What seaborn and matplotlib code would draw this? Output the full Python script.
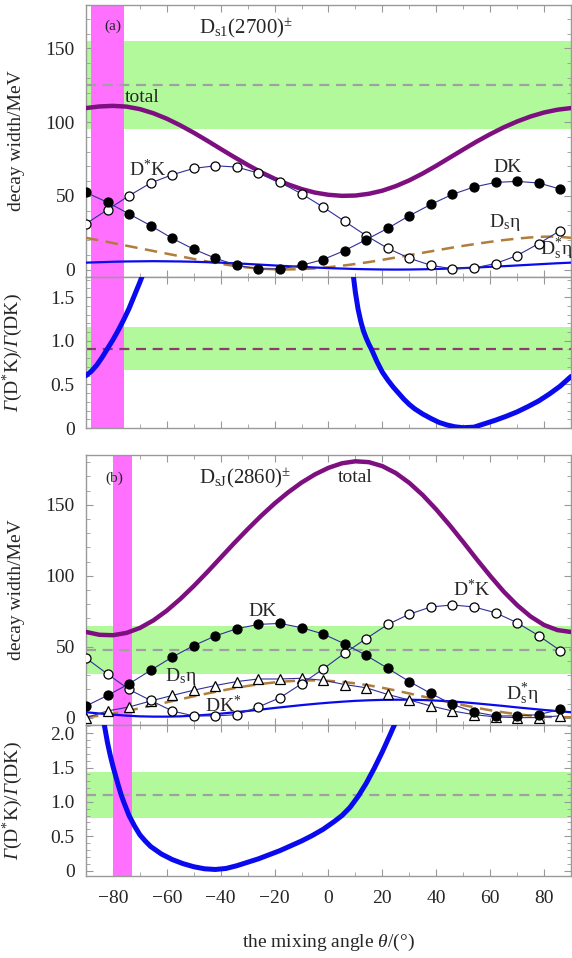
import numpy as np
import pandas as pd
import matplotlib
matplotlib.use('Agg')
import matplotlib.pyplot as plt
from matplotlib.ticker import MultipleLocator, FuncFormatter
import seaborn as sns

### Data ###

theta_line = list(range(-90, 91, 5))
theta_mark = list(range(-90, 87, 8))

# panel (a): Ds1(2700)
total_a = [109.5, 110.6, 111.0, 110.5, 108.8, 106.0, 102.3, 97.8, 92.8, 87.4,
           81.8, 76.3, 71.0, 66.0, 61.6, 57.8, 54.6, 52.2, 50.7, 50.0,
           50.2, 51.4, 53.5, 56.6, 60.5, 65.2, 70.4, 75.9, 81.4, 86.8,
           91.8, 96.4, 100.4, 103.8, 106.5, 108.4, 109.5]
dseta_a = [21.5, 19.8, 18.0, 16.2, 14.4, 12.6, 10.8, 9.0, 7.2, 5.5,
           3.9, 2.5, 1.4, 0.6, 0.2, 0.1, 0.3, 0.8, 1.6, 2.6,
           3.8, 5.1, 6.6, 8.2, 9.8, 11.4, 13.0, 14.6, 16.1, 17.5,
           18.8, 20.0, 21.0, 21.8, 22.3, 22.4, 21.5]
dsseta_a = [4.7, 5.0, 5.3, 5.5, 5.6, 5.7, 5.6, 5.5, 5.3, 5.0,
            4.7, 4.3, 3.8, 3.3, 2.8, 2.3, 1.9, 1.4, 1.0, 0.7,
            0.4, 0.2, 0.05, 0.0, 0.05, 0.2, 0.4, 0.7, 1.0, 1.4,
            1.9, 2.3, 2.8, 3.3, 3.8, 4.3, 4.7]
dk_a = [52.3, 45.6, 37.7, 29.8, 21.2, 13.8, 7.7, 2.9, 0.5, 0.5, 2.9, 6.8,
        12.9, 20.3, 28.0, 36.5, 44.2, 51.0, 56.0, 59.1, 59.8, 58.7, 54.6]
dsk_a = [31.1, 40.6, 50.1, 58.7, 64.3, 68.6, 70.4, 69.5, 65.4, 59.1, 51.4, 42.4,
         32.7, 23.0, 14.4, 7.7, 2.9, 0.5, 1.1, 4.1, 9.5, 17.6, 26.4]

ratio_a_left_theta = [-90, -88, -86, -84, -82, -80, -78, -76, -74, -72, -70, -68, -66]
ratio_a_left = [0.60, 0.65, 0.72, 0.81, 0.91, 1.01, 1.12, 1.24, 1.37, 1.52, 1.67, 1.83, 2.0]
ratio_a_right_theta = [8, 9, 10, 11, 12, 13, 14, 15, 16, 17, 18, 20, 22, 24, 26, 28, 30, 32,
                       35, 38, 41, 44, 47, 50, 54, 58, 62, 66, 70, 74, 78, 82, 86, 90]
ratio_a_right = [2.2, 1.80, 1.55, 1.36, 1.22, 1.11, 1.03, 0.96, 0.90, 0.83, 0.76, 0.64, 0.55,
                 0.47, 0.40, 0.33, 0.27, 0.22, 0.16, 0.11, 0.065, 0.035, 0.014, 0.004,
                 0.01, 0.05, 0.09, 0.135, 0.185, 0.245, 0.31, 0.39, 0.48, 0.59]

# panel (b): DsJ(2860)
total_b = [60.5, 58.5, 58.2, 59.8, 63.3, 68.6, 75.5, 83.7, 92.8, 102.6,
           112.8, 123.0, 132.8, 142.2, 150.9, 158.7, 165.6, 171.4, 176.0, 179.2,
           180.6, 180.0, 177.2, 172.3, 165.4, 156.8, 146.7, 135.6, 123.8, 111.7,
           100.0, 89.0, 79.4, 71.4, 65.4, 61.8, 60.5]
dseta_b = [0.5, 1.5, 3.0, 4.8, 6.8, 8.9, 11.0, 13.1, 15.2, 17.2,
           19.1, 20.9, 22.5, 23.9, 25.0, 25.8, 26.3, 26.4, 26.1, 25.4,
           24.3, 22.9, 21.2, 19.3, 17.2, 15.1, 13.0, 11.0, 9.0, 7.1,
           5.4, 3.9, 2.6, 1.6, 0.9, 0.5, 0.5]
dsseta_b = [4.0, 3.1, 2.3, 1.6, 1.1, 0.9, 0.9, 1.1, 1.6, 2.2,
            3.0, 3.9, 4.9, 5.9, 7.0, 8.0, 9.0, 9.9, 10.7, 11.4,
            12.0, 12.4, 12.7, 12.8, 12.8, 12.6, 12.2, 11.7, 11.0, 10.2,
            9.3, 8.4, 7.4, 6.5, 5.6, 4.8, 4.0]
dk_b = [8.4, 15.8, 24.0, 33.5, 42.8, 50.9, 57.7, 62.8, 65.8, 66.5, 63.5, 59.1,
        52.1, 44.0, 34.9, 25.6, 17.2, 9.5, 4.2, 1.4, 1.4, 2.3, 6.0]
dsk_b = [42.1, 30.9, 20.0, 12.3, 4.9, 1.4, 1.4, 2.3, 7.7, 14.2, 24.0, 34.4,
         45.6, 55.8, 65.8, 73.0, 78.1, 79.5, 78.1, 74.0, 67.0, 57.9, 47.4]
dkstar_b = [0.2, 4.9, 7.7, 11.9, 15.8, 19.5, 22.8, 25.6, 27.4, 27.4, 27.9, 26.5,
            23.5, 21.2, 16.5, 12.6, 8.4, 4.9, 2.3, 0.7, 0.2, 0.2, 1.5]

ratio_b_theta = [-84, -83, -82, -81, -80, -79, -78, -77, -76, -75, -74, -72, -70, -68, -66,
                 -62, -58, -54, -50, -46, -42, -38, -34, -30, -26, -22, -18, -14, -10,
                 -6, -2, 2, 5, 8, 11, 14, 17, 20, 23, 25]
ratio_b = [2.3, 2.08, 1.86, 1.68, 1.52, 1.38, 1.24, 1.11, 1.00, 0.90, 0.80, 0.65, 0.52, 0.43,
           0.35, 0.24, 0.16, 0.10, 0.055, 0.025, 0.015, 0.03, 0.07, 0.12, 0.17, 0.23, 0.29,
           0.36, 0.43, 0.51, 0.60, 0.71, 0.80, 0.92, 1.08, 1.27, 1.49, 1.73, 1.99, 2.17]

# experimental values: (central, low, high), mixing angle window
width_a_exp = (125, 95, 155)
ratio_a_exp = (0.91, 0.66, 1.16)
angle_a = (-88, -76)
width_b_exp = (48, 31, 65)
ratio_b_exp = (1.10, 0.76, 1.44)
angle_b = (-80, -73)

### Style ###
sns.set_style('ticks')
plt.rcParams['font.family'] = 'serif'
plt.rcParams['font.serif'] = ['Liberation Serif', 'DejaVu Serif']
# math: default letters italic, \mathsf used for upright serif text
plt.rcParams['mathtext.fontset'] = 'custom'
plt.rcParams['mathtext.rm'] = 'Liberation Serif:italic'
plt.rcParams['mathtext.it'] = 'Liberation Serif:italic'
plt.rcParams['mathtext.sf'] = 'Liberation Serif'
plt.rcParams['mathtext.bf'] = 'Liberation Serif:bold'
plt.rcParams['axes.unicode_minus'] = True

GREEN = '#b2f99c'
MAGENTA = '#ff70ff'
PURPLE = '#7d0f80'
BLUE = '#0a0aee'
BROWN = '#b07d3c'
NAVY = '#30309a'
GREY = '#a0a0a0'
SPINE = '#999999'
FS = 14

RATIO_LABEL = r'$\Gamma\mathsf{(D^{*}K)/}\Gamma\mathsf{(DK)}$'


def style_axis(ax, ymaj, ymin, show_x):
    ax.set_xlim(-90, 90)
    ax.xaxis.set_major_locator(MultipleLocator(20))
    ax.xaxis.set_minor_locator(MultipleLocator(10))
    ax.yaxis.set_major_locator(MultipleLocator(ymaj))
    ax.yaxis.set_minor_locator(MultipleLocator(ymin))
    ax.tick_params(which='both', direction='in', top=True, right=True,
                   color=SPINE, labelsize=FS)
    ax.tick_params(which='major', length=5)
    ax.tick_params(which='minor', length=3)
    ax.tick_params(axis='y', which='major', pad=8)
    ax.tick_params(axis='x', which='major', pad=10)
    for s in ax.spines.values():
        s.set_color(SPINE)
        s.set_linewidth(1.0)
    if not show_x:
        ax.tick_params(labelbottom=False)
    ax.set_xlabel('')
    ax.set_ylabel('')


def fmt_ratio(v, pos):
    return '0' if abs(v) < 1e-9 else f'{v:.1f}'


def draw_exp(ax, exp, angle, dash_color):
    ax.axhspan(exp[1], exp[2], color=GREEN, lw=0, zorder=0)
    ax.axvspan(angle[0], angle[1], color=MAGENTA, lw=0, zorder=1)
    ax.axhline(exp[0], color=dash_color, lw=1.6, dashes=(4.5, 3), zorder=2)


def line(ax, x, y, **kw):
    sns.lineplot(x=x, y=y, ax=ax, sort=False, estimator=None, **kw)


def marked(ax, x, y, marker, filled, ms=6.5):
    sns.lineplot(x=x, y=y, ax=ax, sort=False, estimator=None, color=NAVY, lw=0.8,
                 marker=marker, markersize=ms, markeredgecolor='black',
                 markeredgewidth=0.9, markerfacecolor='black' if filled else 'white',
                 zorder=5)


fig = plt.figure(figsize=(5.72, 9.58), dpi=100)
ax1 = fig.add_axes([0.1503, 0.7109, 0.8479, 0.2839])
ax2 = fig.add_axes([0.1503, 0.5532, 0.8479, 0.1577])
ax3 = fig.add_axes([0.1503, 0.2432, 0.8479, 0.2818])
ax4 = fig.add_axes([0.1503, 0.0856, 0.8479, 0.1576])

### (a) widths ###
draw_exp(ax1, width_a_exp, angle_a, GREY)
line(ax1, theta_line, total_a, color=PURPLE, lw=3.2, zorder=3)
line(ax1, theta_line, dseta_a, color=BROWN, lw=1.8, dashes=(5, 3), zorder=3)
line(ax1, theta_line, dsseta_a, color=BLUE, lw=1.6, zorder=3)
marked(ax1, theta_mark, dsk_a, 'o', False)
marked(ax1, theta_mark, dk_a, 'o', True)
ax1.set_ylim(-5, 179.4)
style_axis(ax1, 50, 10, False)
ax1.set_ylabel('decay width/MeV', fontsize=FS)
ax1.text(-80, 165, '(a)', fontsize=11, ha='center', va='center')
ax1.text(-30.5, 164, r'$\mathsf{D_{s1}(2700)^{\pm}}$', fontsize=15, ha='center', va='center')
ax1.text(-75.5, 117, 'total', fontsize=FS, ha='left', va='center')
ax1.text(-67, 68, r'$\mathsf{D^{*}K}$', fontsize=FS, ha='center', va='center')
ax1.text(66.5, 69.5, 'DK', fontsize=FS, ha='center', va='center')
ax1.text(65.5, 32, r'$\mathsf{D_s\eta}$', fontsize=FS, ha='center', va='center')
ax1.text(84.5, 14, r'$\mathsf{D_s^{*}\eta}$', fontsize=FS, ha='center', va='center')

### (a) ratio ###
draw_exp(ax2, ratio_a_exp, angle_a, '#8e3a6e')
line(ax2, ratio_a_left_theta, ratio_a_left, color=BLUE, lw=3.6, zorder=3)
line(ax2, ratio_a_right_theta, ratio_a_right, color=BLUE, lw=3.6, zorder=3)
ax2.set_ylim(0, 1.73)
style_axis(ax2, 0.5, 0.1, False)
ax2.yaxis.set_major_formatter(FuncFormatter(fmt_ratio))
ax2.set_ylabel(RATIO_LABEL, fontsize=FS)

### (b) widths ###
draw_exp(ax3, width_b_exp, angle_b, GREY)
line(ax3, theta_line, total_b, color=PURPLE, lw=3.2, zorder=3)
line(ax3, theta_line, dseta_b, color=BROWN, lw=1.8, dashes=(5, 3), zorder=3)
line(ax3, theta_line, dsseta_b, color=BLUE, lw=1.6, zorder=3)
marked(ax3, theta_mark, dkstar_b, '^', False, ms=7)
marked(ax3, theta_mark, dsk_b, 'o', False)
marked(ax3, theta_mark, dk_b, 'o', True)
ax3.set_ylim(-5, 185)
style_axis(ax3, 50, 10, False)
ax3.set_ylabel('decay width/MeV', fontsize=FS)
ax3.text(-79.6, 169, '(b)', fontsize=11, ha='center', va='center')
ax3.text(-31, 169, r'$\mathsf{D_{sJ}(2860)^{\pm}}$', fontsize=15, ha='center', va='center')
ax3.text(9.8, 169.5, 'total', fontsize=FS, ha='center', va='center')
ax3.text(-24.5, 75, 'DK', fontsize=FS, ha='center', va='center')
ax3.text(53.3, 90.5, r'$\mathsf{D^{*}K}$', fontsize=FS, ha='center', va='center')
ax3.text(-54.7, 29, r'$\mathsf{D_s\eta}$', fontsize=FS, ha='center', va='center')
ax3.text(-39, 8.7, r'$\mathsf{DK^{*}}$', fontsize=FS, ha='center', va='center')
ax3.text(71.8, 16.4, r'$\mathsf{D_s^{*}\eta}$', fontsize=FS, ha='center', va='center')

### (b) ratio ###
draw_exp(ax4, ratio_b_exp, angle_b, GREY)
line(ax4, ratio_b_theta, ratio_b, color=BLUE, lw=3.6, zorder=3)
ax4.set_ylim(-0.08, 2.12)
style_axis(ax4, 0.5, 0.1, True)
ax4.yaxis.set_major_formatter(FuncFormatter(fmt_ratio))
ax4.set_ylabel(RATIO_LABEL, fontsize=FS)
ax4.set_xlabel(r'the mixing angle $\theta\mathsf{/(°)}$', fontsize=FS, labelpad=18)

for ax in (ax1, ax2, ax3, ax4):
    ax.yaxis.set_label_coords(-0.125, 0.5)

fig.savefig('out.png', dpi=100)
